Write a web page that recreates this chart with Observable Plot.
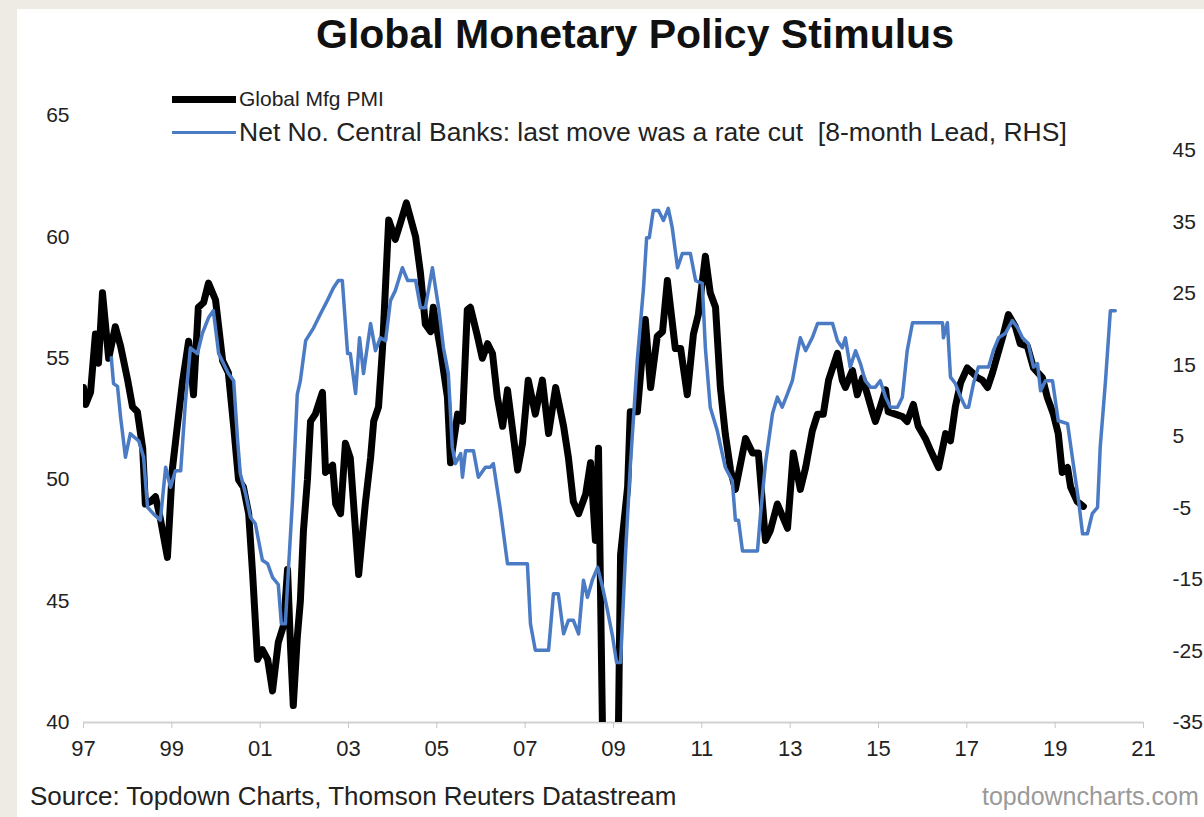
<!DOCTYPE html>
<html>
<head>
<meta charset="utf-8">
<script src="https://cdn.jsdelivr.net/npm/d3@7"></script>
<script src="https://cdn.jsdelivr.net/npm/@observablehq/plot@0.6"></script>
<style>
  html, body { margin: 0; padding: 0; }
  body { width: 1204px; height: 817px; overflow: hidden; background: #eeebe4; position: relative;
         font-family: "Liberation Sans", Arial, sans-serif; }
  #panel { position: absolute; left: 17px; top: 9px; width: 1187px; height: 808px; background: #fff; }
  #chart { position: absolute; left: 0; top: 0; }
  #title { position: absolute; left: 0; top: 11px; width: 1270px; text-align: center;
           font-weight: bold; font-size: 41px; color: #111; }
  .leg { position: absolute; left: 172px; display: flex; align-items: center; color: #222; white-space: nowrap; }
  .sw { width: 64px; margin-right: 3px; }
  .stretch { display: inline-block; transform: scaleX(1.06); transform-origin: left center; }
  #src { position: absolute; left: 30px; top: 781px; font-size: 26px; color: #222; white-space: nowrap; }
  #site { position: absolute; left: 982px; top: 782px; font-size: 25px; color: #9a9a9a; white-space: nowrap; }
</style>
</head>
<body>
<div id="panel"></div>
<div id="chart"></div>
<div id="title">Global Monetary Policy Stimulus</div>
<div class="leg" style="top:87px;font-size:21px"><div class="sw" style="height:7px;background:#000"></div><span>Global Mfg PMI</span></div>
<div class="leg" style="top:118px;font-size:25px"><div class="sw" style="height:3.5px;background:#4a7bc4"></div><span class="stretch">Net No. Central Banks: last move was a rate cut&nbsp;&nbsp;[8-month Lead, RHS]</span></div>
<div id="src">Source: Topdown Charts, Thomson Reuters Datastream</div>
<div id="site">topdowncharts.com</div>
<script>
// Global Manufacturing PMI (left axis)
const pmiDates = [1997.00,1997.05,1997.16,1997.27,1997.34,1997.43,1997.57,1997.72,1997.84,1998.00,1998.11,1998.22,1998.34,1998.40,1998.52,1998.63,1998.74,1998.90,1999.01,1999.13,1999.24,1999.38,1999.49,1999.60,1999.72,1999.83,1999.99,2000.15,2000.28,2000.40,2000.51,2000.62,2000.74,2000.83,2000.94,2001.05,2001.17,2001.28,2001.41,2001.53,2001.62,2001.69,2001.75,2001.84,2001.91,2001.98,2002.07,2002.14,2002.25,2002.41,2002.48,2002.64,2002.71,2002.82,2002.93,2003.04,2003.23,2003.38,2003.50,2003.57,2003.68,2003.77,2003.91,2004.06,2004.18,2004.31,2004.52,2004.63,2004.74,2004.86,2004.92,2005.08,2005.24,2005.31,2005.47,2005.58,2005.69,2005.76,2005.92,2006.03,2006.15,2006.26,2006.37,2006.49,2006.60,2006.83,2006.94,2007.07,2007.23,2007.39,2007.53,2007.69,2007.87,2007.98,2008.09,2008.21,2008.37,2008.48,2008.59,2008.66,2008.78,2008.90,2009.03,2009.10,2009.16,2009.32,2009.38,2009.54,2009.72,2009.84,2009.99,2010.11,2010.22,2010.40,2010.52,2010.67,2010.81,2010.92,2011.08,2011.19,2011.31,2011.42,2011.53,2011.65,2011.76,2011.99,2012.15,2012.28,2012.44,2012.55,2012.71,2012.94,2013.07,2013.23,2013.35,2013.50,2013.62,2013.75,2013.87,2014.07,2014.18,2014.25,2014.41,2014.52,2014.64,2014.75,2014.86,2014.93,2015.04,2015.16,2015.22,2015.38,2015.54,2015.65,2015.79,2015.90,2016.06,2016.18,2016.36,2016.52,2016.63,2016.74,2016.86,2017.01,2017.13,2017.24,2017.35,2017.47,2017.58,2017.72,2017.83,2017.94,2018.10,2018.21,2018.37,2018.51,2018.71,2018.82,2018.96,2019.07,2019.16,2019.28,2019.35,2019.50,2019.64];
const pmiValues = [53.8,53.1,53.6,56.0,54.8,57.7,55.0,56.3,55.5,54.1,53.0,52.8,51.3,49.0,49.1,49.3,48.4,46.8,50.4,52.3,54.0,55.7,53.5,57.1,57.3,58.1,57.4,54.9,54.4,52.2,50.0,49.7,48.6,46.1,42.6,43.0,42.6,41.3,43.3,44.0,46.3,43.0,40.7,43.5,45.0,47.9,50.0,52.4,52.7,53.6,50.3,50.6,49.0,48.6,51.5,50.9,46.1,49.0,50.9,52.4,53.0,55.4,60.7,59.9,60.6,61.4,60.0,58.5,56.4,56.1,57.1,55.4,53.4,50.7,52.7,52.4,57.0,57.1,55.9,55.0,55.6,55.2,53.4,52.2,53.7,50.4,51.5,54.1,52.7,54.1,51.9,53.8,52.2,50.9,49.1,48.6,49.4,50.7,47.5,51.3,36.0,33.5,35.0,38.0,46.9,49.7,52.8,52.8,56.6,53.8,55.9,56.1,58.2,55.4,55.4,53.5,56.0,56.8,59.2,57.7,57.1,53.8,51.9,50.4,49.6,51.7,51.1,51.1,47.5,47.9,49.0,48.0,51.1,49.6,50.5,52.0,52.7,52.7,54.1,55.2,54.1,53.8,54.5,53.5,54.2,53.5,52.8,52.4,53.0,53.7,52.8,52.7,52.6,52.4,53.1,52.2,51.7,51.2,50.5,51.9,51.6,53.0,54.0,54.6,54.4,54.2,54.1,53.8,54.4,55.3,56.0,56.8,56.3,55.6,55.5,54.6,54.2,53.4,52.7,51.9,50.3,50.5,49.7,49.1,48.9];

// Net number of central banks whose last move was a cut, 8-month lead (right axis)
const cbDates = [1997.63,1997.68,1997.77,1997.84,1997.95,1998.06,1998.15,1998.25,1998.36,1998.45,1998.58,1998.74,1998.86,1998.97,1999.08,1999.20,1999.31,1999.42,1999.58,1999.69,1999.83,1999.94,2000.06,2000.17,2000.28,2000.40,2000.49,2000.55,2000.67,2000.78,2000.89,2001.05,2001.17,2001.28,2001.41,2001.48,2001.57,2001.64,2001.73,2001.84,2001.91,2002.03,2002.21,2002.37,2002.52,2002.66,2002.77,2002.86,2002.98,2003.04,2003.16,2003.25,2003.34,2003.50,2003.61,2003.72,2003.84,2003.95,2004.06,2004.22,2004.34,2004.52,2004.63,2004.74,2004.90,2005.04,2005.15,2005.26,2005.35,2005.42,2005.54,2005.58,2005.65,2005.83,2005.94,2006.10,2006.21,2006.28,2006.44,2006.60,2007.05,2007.12,2007.23,2007.53,2007.64,2007.75,2007.87,2007.98,2008.09,2008.21,2008.32,2008.41,2008.52,2008.64,2008.75,2008.86,2008.98,2009.07,2009.16,2009.27,2009.38,2009.54,2009.68,2009.75,2009.81,2009.90,2010.02,2010.13,2010.24,2010.33,2010.45,2010.56,2010.74,2010.86,2011.01,2011.08,2011.19,2011.35,2011.53,2011.69,2011.76,2011.83,2011.92,2012.26,2012.33,2012.44,2012.60,2012.71,2012.82,2012.94,2013.05,2013.16,2013.23,2013.35,2013.50,2013.62,2013.96,2014.07,2014.18,2014.25,2014.36,2014.48,2014.59,2014.70,2014.82,2014.93,2015.04,2015.16,2015.27,2015.43,2015.54,2015.65,2015.77,2016.45,2016.47,2016.56,2016.63,2016.74,2016.86,2016.97,2017.04,2017.15,2017.26,2017.49,2017.60,2017.72,2017.87,2018.03,2018.15,2018.26,2018.39,2018.51,2018.60,2018.67,2018.78,2018.94,2019.07,2019.28,2019.41,2019.53,2019.62,2019.73,2019.84,2019.96,2020.02,2020.14,2020.25,2020.36];
const cbValues = [16.0,12.4,12.0,7.7,2.1,5.4,4.9,4.4,2.1,-4.9,-5.8,-6.7,0.7,-2.1,0.2,0.2,10.0,17.4,16.6,19.4,21.6,22.6,16.6,15.2,13.8,12.8,4.4,-0.2,-3.0,-6.3,-7.2,-12.3,-12.8,-14.7,-15.7,-21.2,-21.2,-13.6,-4.1,10.9,12.8,18.4,20.2,22.2,24.0,25.8,26.8,26.8,16.6,16.6,11.0,18.8,13.8,20.8,17.0,18.8,18.4,24.0,25.4,28.6,26.8,26.8,23.0,23.0,28.6,23.0,17.4,13.8,3.5,1.2,2.6,-0.7,3.0,3.0,-0.7,0.7,0.7,1.2,-5.3,-12.8,-12.8,-21.2,-24.9,-24.9,-17.0,-17.0,-22.6,-20.7,-20.7,-22.6,-15.1,-17.5,-15.1,-13.3,-16.0,-19.2,-23.0,-26.6,-26.6,-11.6,0.8,15.8,25.8,32.8,32.8,36.6,36.6,35.2,36.9,34.2,28.6,30.6,30.6,26.8,26.4,17.4,9.1,5.8,0.7,-1.2,-6.7,-6.7,-11.0,-11.0,-5.8,1.2,8.2,10.5,9.1,11.0,12.8,16.6,18.8,17.0,18.8,20.8,20.8,18.4,17.4,18.8,14.7,17.0,15.2,12.8,11.9,11.9,12.8,10.5,9.1,9.1,10.5,17.0,20.9,20.9,18.8,20.9,13.3,12.4,10.5,9.1,9.1,12.4,14.7,14.7,17.0,18.8,19.4,21.2,20.2,18.8,18.0,14.7,15.2,11.4,12.8,12.8,7.2,6.8,1.2,-4.0,-8.6,-8.6,-5.8,-4.9,3.5,12.8,22.6,22.6];

// Axes
const xTickYears = [1997,1999,2001,2003,2005,2007,2009,2011,2013,2015,2017,2019,2021];
const xTickLabels = ["97","99","01","03","05","07","09","11","13","15","17","19","21"];
const leftTicks = [40,45,50,55,60,65];
const rightTicks = [-35,-25,-15,-5,5,15,25,35,45];
const leftDomain = [40,65];
const rightDomain = [-35,45];
const rightTopOnLeft = 63.56; // left-axis level where the RHS top tick (45) sits

const k = (rightTopOnLeft - leftDomain[0]) / (rightDomain[1] - rightDomain[0]);
const toLeft = v => leftDomain[0] + (v - rightDomain[0]) * k;
const fromLeft = y => rightDomain[0] + (y - leftDomain[0]) / k;

const pmi = pmiDates.map((d, i) => ({date: d, value: pmiValues[i]}));
const cb = cbDates.map((d, i) => ({date: d, value: cbValues[i]}));

const chart = Plot.plot({
  width: 1204,
  height: 780,
  marginLeft: 83,
  marginRight: 61,
  marginTop: 115,
  marginBottom: 58,
  x: {domain: [1997, 2021]},
  y: {domain: leftDomain},
  style: {fontFamily: "'Liberation Sans', Arial, sans-serif", fontSize: "21px", color: "#222", background: "transparent", overflow: "visible"},
  marks: [
    Plot.ruleY([40], {stroke: "#d2d2d2", strokeWidth: 2}),
    Plot.axisX({ticks: xTickYears, tickFormat: d => xTickLabels[xTickYears.indexOf(d)], tickSize: 6, tickPadding: 12, stroke: "#c8c8c8", fontSize: 22, label: null}),
    Plot.axisY({anchor: "left", ticks: leftTicks, tickSize: 0, tickPadding: 14, fontSize: 21, label: null}),
    Plot.axisY({anchor: "right", ticks: rightTicks.map(toLeft), tickFormat: v => String(Math.round(fromLeft(v))), tickSize: 0, tickPadding: 29, fontSize: 21, label: null}),
    Plot.line(pmi, {x: "date", y: "value", stroke: "#000", strokeWidth: 7, strokeLinejoin: "round", clip: true}),
    Plot.line(cb, {x: "date", y: d => toLeft(d.value), stroke: "#4a7bc4", strokeWidth: 3.5, strokeLinejoin: "round", clip: true})
  ]
});
document.getElementById("chart").appendChild(chart);
</script>
</body>
</html>
